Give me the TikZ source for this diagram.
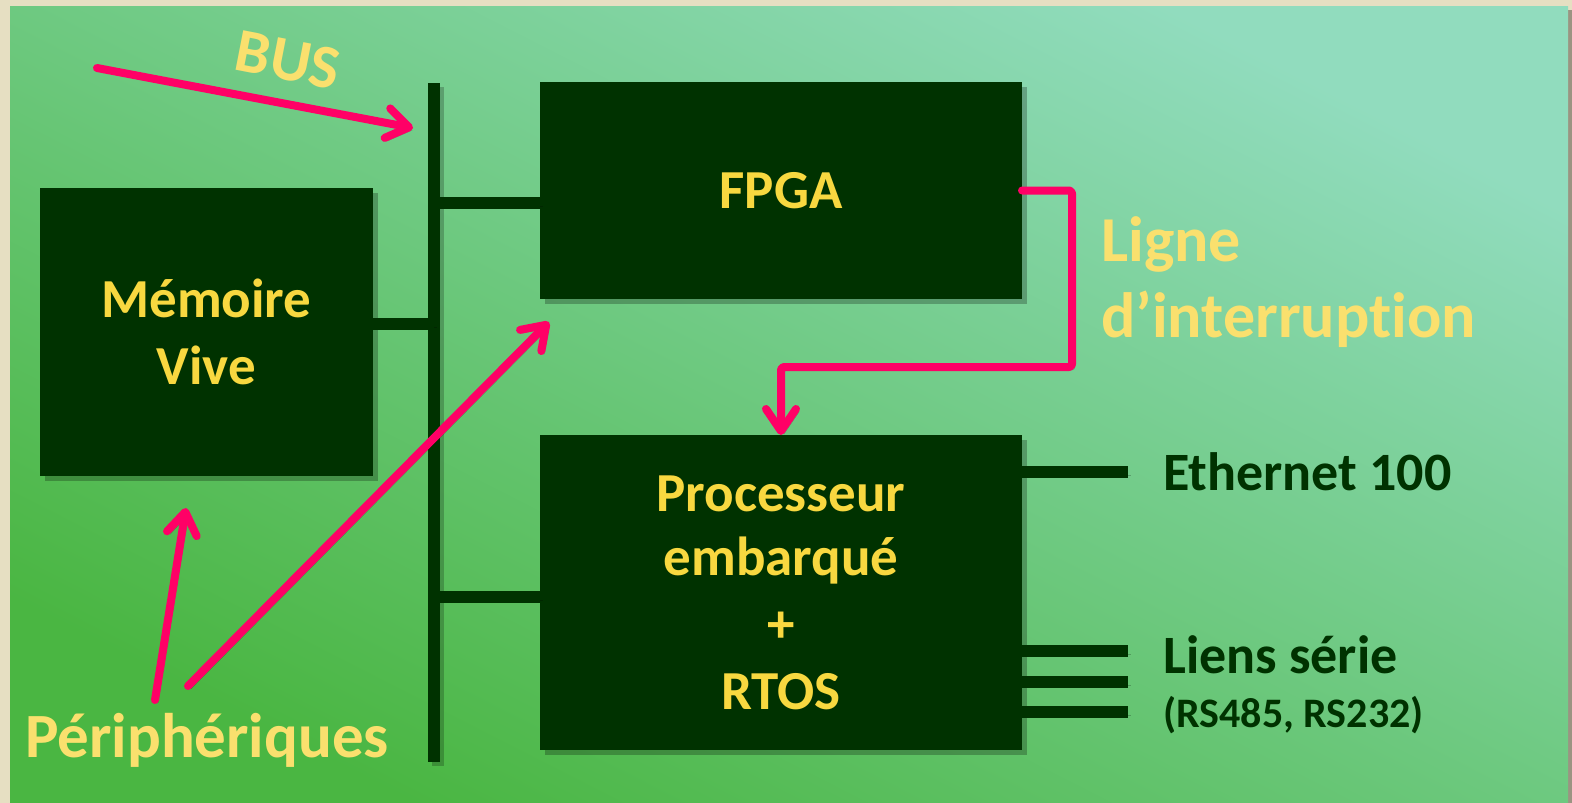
\documentclass[tikz,border=0pt]{standalone}
\usepackage{fontspec}
\setmainfont{Carlito}[Ligatures=NoCommon]
\usetikzlibrary{arrows.meta,shadows}
\definecolor{boxgreen}{RGB}{0,50,0}
\definecolor{yellowin}{RGB}{248,216,64}
\definecolor{yellowout}{RGB}{250,224,110}
\definecolor{pinkc}{RGB}{255,0,102}
\definecolor{beige}{RGB}{230,223,194}
\definecolor{bglight}{RGB}{145,220,190}
\definecolor{bgdark}{RGB}{74,182,66}
\definecolor{edgegrey}{RGB}{155,148,130}
\begin{document}
\begin{tikzpicture}[x=1pt,y=-1pt,
  box/.style={rectangle, fill=boxgreen, inner sep=0pt, outer sep=0pt,
    text=yellowin, font=\fontsize{55}{67}\selectfont\bfseries, align=center,
    drop shadow={shadow xshift=5pt, shadow yshift=-5pt, opacity=0.25, fill=black}},
  lshadow/.style={preaction={draw=black, opacity=0.22, transform canvas={shift={(3pt,-3pt)}}}},
  conn/.style={draw=boxgreen, line width=12pt, lshadow},
  pinkarrow/.style={draw=pinkc, line width=8pt, line cap=round, line join=round, rounded corners=3pt,
    -{Straight Barb[length=22pt,width=30pt,line cap=round,line join=round]}},
  outtext/.style={text=yellowout, inner sep=0pt, font=\fontsize{#1}{#1}\selectfont\bfseries},
  darktext/.style={text=boxgreen, inner sep=0pt, font=\fontsize{#1}{#1}\selectfont\bfseries},
]
\useasboundingbox (0,0) rectangle (1572,803);
% background
\fill[beige] (0,0) rectangle (1572,803);
\fill[edgegrey] (1568,10) rectangle (1572,803);
\shade[top color=bglight, bottom color=bgdark, shading angle=-27] (10,6) rectangle (1568,803);

% bus bar
\node[rectangle, fill=boxgreen, minimum width=12pt, minimum height=679pt, inner sep=0pt, outer sep=0pt,
  drop shadow={shadow xshift=4pt, shadow yshift=-4pt, opacity=0.22, fill=black}] (bus) at (434,422.5) {};

% boxes
\node[box, minimum width=482pt, minimum height=217pt] (fpga) at (781,190.5) {\raisebox{-4pt}{FPGA}};
\node[box, minimum width=333pt, minimum height=288pt] (mem) at (206.5,332) {Mémoire\\Vive};
\node[box, minimum width=482pt, minimum height=315pt] (proc) at (781,592.5) {\raisebox{-3pt}{Processeur}\\embarqué\\+\\RTOS};

% bus connectors
\coordinate (memport) at ([yshift=8pt]mem.east);
\coordinate (fpgaport) at ([yshift=-12.5pt]fpga.west);
\coordinate (procport) at ([yshift=-4.5pt]proc.west);
\draw[conn] (memport) -- (memport -| bus.center);
\draw[conn] (fpgaport -| bus.center) -- (fpgaport);
\draw[conn] (procport -| bus.center) -- (procport);

% outputs of the processor
\coordinate (ethport) at ([yshift=120.5pt]proc.east);
\coordinate (ser1) at ([yshift=-58.5pt]proc.east);
\coordinate (ser2) at ([yshift=-89.5pt]proc.east);
\coordinate (ser3) at ([yshift=-119.5pt]proc.east);
\draw[conn] (ethport) -- ++(106,0) coordinate (ethend);
\draw[conn] (ser1) -- ++(106,0) coordinate (ser1end);
\draw[conn] (ser2) -- ++(106,0) coordinate (ser2end);
\draw[conn] (ser3) -- ++(106,0) coordinate (ser3end);

\node[darktext=54, anchor=base west] (eth) at (1163,490) {Ethernet 100};
\node[darktext=54, anchor=base west] (liens) at (1163,673) {Liens série};
\node[darktext=42, anchor=base west] (rs) at (1163,727) {(RS485, RS232)};

% interrupt line
\coordinate (irqcorner) at (1072,367);
\draw[pinkarrow, lshadow] (fpga.east) -| (irqcorner) -| (proc.north);
\node[outtext=64, anchor=base west] (ligne1) at (1101,261) {Ligne};
\node[outtext=64, anchor=base west] (ligne2) at (1101,337) {d’interruption};

% BUS label and arrow
\node[outtext=62, rotate=-11] (buslbl) at (288,60) {BUS};
\coordinate (bustail) at (97,68);
\coordinate (bustip) at (413,128);
\draw[pinkarrow, lshadow] (bustail) -- (bustip);

% peripherals
\node[outtext=63, anchor=base west] (periph) at (25,757) {Périphériques};
\coordinate (p1) at (155,700);
\coordinate (p2) at (188,686);
\coordinate (memtip) at (186,508);
\coordinate (fpgatip) at (549,322);
\draw[pinkarrow, lshadow] (p1) -- (memtip);
\draw[pinkarrow, lshadow] (p2) -- (fpgatip);
\end{tikzpicture}
\end{document}
